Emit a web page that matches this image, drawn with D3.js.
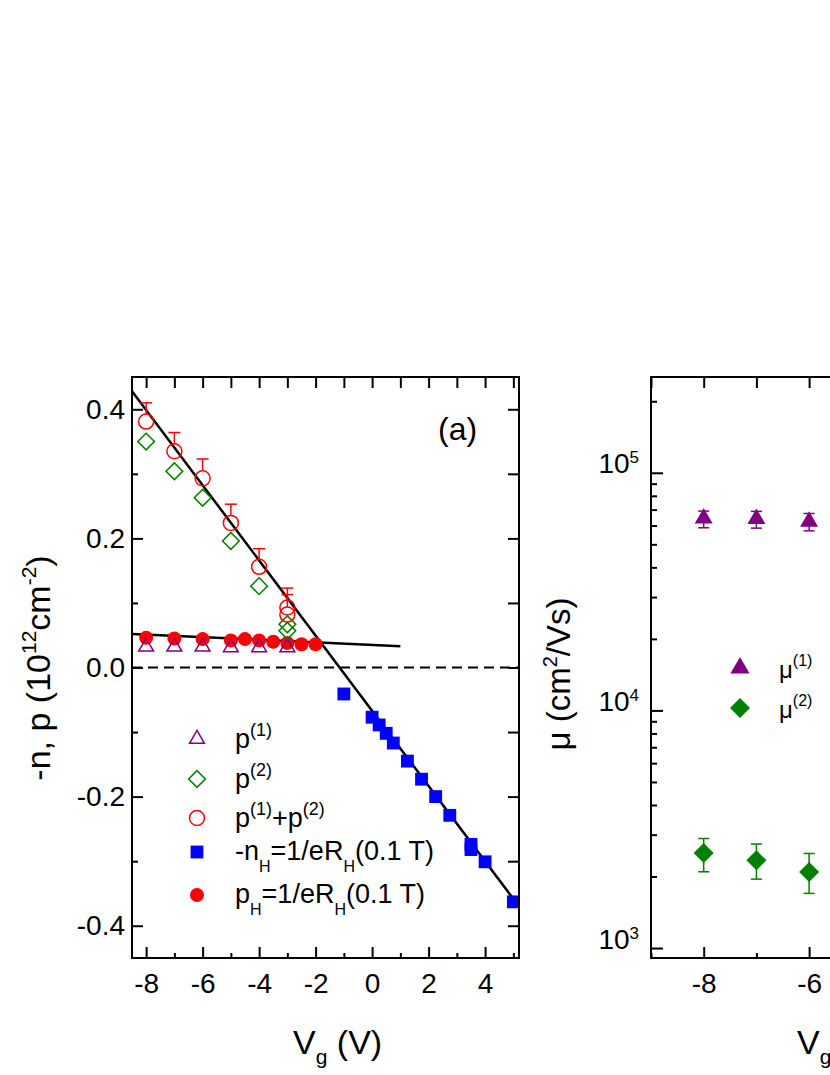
<!DOCTYPE html>
<html>
<head>
<meta charset="utf-8">
<script src="https://cdn.jsdelivr.net/npm/d3@7"></script>
<style>
  body { margin: 0; background: #fff; }
  svg { display: block; }
</style>
</head>
<body>
<div id="chart"></div>
<script>
// ---- data, panel (a): carrier densities vs gate voltage ----
const p1Vg   = [-8, -7, -6, -5, -4, -3];
const p1     = [0.032, 0.032, 0.032, 0.031, 0.031, 0.031];

const p2Vg   = [-8, -7, -6, -5, -4, -3, -3];
const p2     = [0.350, 0.304, 0.263, 0.196, 0.126, 0.067, 0.057];

const pSumVg  = [-8, -7, -6, -5, -4, -3, -3];
const pSum    = [0.381, 0.335, 0.293, 0.224, 0.156, 0.093, 0.082];
const pSumErr = [0.029, 0.029, 0.030, 0.029, 0.028, 0.030, 0.031];

const nHVg   = [-1, 0, 0.25, 0.5, 0.75, 1.25, 1.75, 2.25, 2.75, 3.5, 3.5, 4, 5];
const nH     = [-0.041, -0.077, -0.089, -0.102, -0.117, -0.145, -0.173, -0.200, -0.229, -0.274, -0.282, -0.301, -0.363];

const pHVg   = [-8, -7, -6, -5, -4.5, -4, -3.5, -3, -2.5, -2];
const pH     = [0.046, 0.045, 0.044, 0.042, 0.044, 0.042, 0.040, 0.038, 0.036, 0.036];

// linear fits
const fitSteepVg = [-8.5, 5.2];
const fitSteep   = [0.428, -0.370];
const fitFlatVg  = [-8.5, 1.0];
const fitFlat    = [0.052, 0.033];

// ---- data, panel (b): mobilities ----
const muVg  = [-8, -7, -6];
const mu1   = [64300, 64000, 62300];
const mu1Lo = [58700, 58500, 57000];
const mu1Hi = [69000, 68800, 67400];
const mu2   = [2510, 2340, 2090];
const mu2Lo = [2094, 1950, 1698];
const mu2Hi = [2890, 2740, 2500];

// tick values
const xMajorA = [-8, -6, -4, -2, 0, 2, 4];
const xMinorA = [-7, -5, -3, -1, 1, 3, 5];
const yMajorA = [-0.4, -0.2, 0, 0.2, 0.4];
const yMinorA = [-0.3, -0.1, 0.1, 0.3];
const xMajorB = [-8, -6, -4, -2];
const xLabelB = [-8, -6];          // the only labels inside the picture
const xMinorB = [-9, -7, -5, -3];
const yDecadesB = [1e3, 1e4, 1e5];

const FONT   = "'Liberation Sans', Arial, Helvetica, sans-serif";
const PURPLE = "#800080";
const GREEN  = "#008000";
const RED    = "#ff0000";
const BLUE   = "#0000ff";

const W = 830, H = 1075;

const svg = d3.select("#chart").append("svg")
  .attr("width", W).attr("height", H)
  .attr("font-family", FONT);

// text with super/subscripts: parts = [{t, fs, shift}]
function rich(sel, parts) {
  let cur = 0;
  parts.forEach(p => {
    const shift = p.shift || 0;
    const ts = sel.append("tspan").attr("dy", shift - cur).text(p.t);
    if (p.fs) ts.attr("font-size", p.fs);
    cur = shift;
  });
  return sel;
}

function styleAxis(g) {
  g.select(".domain").remove();
  g.selectAll(".tick line").attr("stroke", "#000").attr("stroke-width", 2);
  g.selectAll(".tick text").attr("font-size", 28).attr("fill", "#000").attr("font-family", FONT);
}

const zip = (xs, ys) => xs.map((v, i) => ({ x: v, y: ys[i] }));

// =================== panel (a) ===================
const A = { left: 132, top: 377, right: 519, bottom: 958 };
const xA = d3.scaleLinear().domain([-8.5, 5.2]).range([A.left, A.right]);
const yA = d3.scaleLinear().domain([-0.45, 0.45]).range([A.bottom, A.top]);

const gA = svg.append("g");

gA.append("clipPath").attr("id", "clipA")
  .append("rect")
    .attr("x", A.left).attr("y", A.top)
    .attr("width", A.right - A.left).attr("height", A.bottom - A.top);

// axes (ticks point inward)
gA.append("g").attr("transform", `translate(0,${A.bottom})`)
  .call(d3.axisBottom(xA).tickValues(xMajorA).tickSize(-11).tickPadding(15).tickFormat(d => String(d)))
  .call(styleAxis);
gA.append("g").attr("transform", `translate(0,${A.bottom})`)
  .call(d3.axisBottom(xA).tickValues(xMinorA).tickSize(-5).tickFormat(""))
  .call(styleAxis);
gA.append("g").attr("transform", `translate(0,${A.top})`)
  .call(d3.axisTop(xA).tickValues(d3.range(-8, 6)).tickSize(-11).tickFormat(""))
  .call(styleAxis);
gA.append("g").attr("transform", `translate(${A.left},0)`)
  .call(d3.axisLeft(yA).tickValues(yMajorA).tickSize(-11).tickPadding(7).tickFormat(d => d.toFixed(1)))
  .call(styleAxis);
gA.append("g").attr("transform", `translate(${A.left},0)`)
  .call(d3.axisLeft(yA).tickValues(yMinorA).tickSize(-6).tickFormat(""))
  .call(styleAxis);
gA.append("g").attr("transform", `translate(${A.right},0)`)
  .call(d3.axisRight(yA).tickValues(yMajorA.concat(yMinorA)).tickSize(-11).tickFormat(""))
  .call(styleAxis);

// zero line
gA.append("line")
  .attr("x1", A.left).attr("x2", A.right)
  .attr("y1", yA(0)).attr("y2", yA(0))
  .attr("stroke", "#000").attr("stroke-width", 1.8)
  .attr("stroke-dasharray", "10 6");

// fit lines
const lineA = d3.line().x(d => xA(d.x)).y(d => yA(d.y));
[zip(fitSteepVg, fitSteep), zip(fitFlatVg, fitFlat)].forEach(pts => {
  gA.append("path")
    .datum(pts)
    .attr("clip-path", "url(#clipA)")
    .attr("fill", "none").attr("stroke", "#000").attr("stroke-width", 2.5)
    .attr("d", lineA);
});

const triOpen  = d3.symbol().type(d3.symbolTriangle).size(95)();
const diamond  = d3.symbol().type(d3.symbolSquare).size(140)();
const square   = d3.symbol().type(d3.symbolSquare).size(165)();
const R_OPEN = 7.5;

// p_H filled circles
gA.selectAll(".pH").data(zip(pHVg, pH)).join("circle")
  .attr("cx", d => xA(d.x)).attr("cy", d => yA(d.y))
  .attr("r", 7).attr("fill", RED);

// -n_H squares
gA.selectAll(".nH").data(zip(nHVg, nH)).join("path")
  .attr("transform", d => `translate(${xA(d.x)},${yA(d.y)})`)
  .attr("d", square).attr("fill", BLUE);

// p(1) open triangles
gA.selectAll(".p1").data(zip(p1Vg, p1)).join("path")
  .attr("transform", d => `translate(${xA(d.x)},${yA(d.y)})`)
  .attr("d", triOpen).attr("fill", "none")
  .attr("stroke", PURPLE).attr("stroke-width", 1.5);

// p(2) open diamonds
gA.selectAll(".p2").data(zip(p2Vg, p2)).join("path")
  .attr("transform", d => `translate(${xA(d.x)},${yA(d.y)}) rotate(45)`)
  .attr("d", diamond).attr("fill", "none")
  .attr("stroke", GREEN).attr("stroke-width", 1.5);

// p(1)+p(2) open circles with upper error bars
const sumData = pSumVg.map((v, i) => ({ x: v, y: pSum[i], e: pSumErr[i] }));
const errA = gA.selectAll(".err").data(sumData).join("g")
  .attr("stroke", RED).attr("stroke-width", 1.5);
errA.append("line")
  .attr("x1", d => xA(d.x)).attr("x2", d => xA(d.x))
  .attr("y1", d => yA(d.y) - R_OPEN).attr("y2", d => yA(d.y + d.e));
errA.append("line")
  .attr("x1", d => xA(d.x) - 6).attr("x2", d => xA(d.x) + 6)
  .attr("y1", d => yA(d.y + d.e)).attr("y2", d => yA(d.y + d.e));
gA.selectAll(".psum").data(sumData).join("circle")
  .attr("cx", d => xA(d.x)).attr("cy", d => yA(d.y))
  .attr("r", R_OPEN).attr("fill", "none")
  .attr("stroke", RED).attr("stroke-width", 1.5);

// frame
gA.append("rect")
  .attr("x", A.left).attr("y", A.top)
  .attr("width", A.right - A.left).attr("height", A.bottom - A.top)
  .attr("fill", "none").attr("stroke", "#000").attr("stroke-width", 2);

// panel label
gA.append("text").attr("x", 438).attr("y", 440)
  .attr("font-size", 32).text("(a)");

// legend
const LX = 197, LTX = 235;
const legA = gA.append("g");
legA.append("path").attr("transform", "translate(197,739)").attr("d", triOpen)
  .attr("fill", "none").attr("stroke", PURPLE).attr("stroke-width", 1.5);
legA.append("path").attr("transform", "translate(197,779) rotate(45)").attr("d", diamond)
  .attr("fill", "none").attr("stroke", GREEN).attr("stroke-width", 1.5);
legA.append("circle").attr("cx", LX).attr("cy", 818).attr("r", R_OPEN)
  .attr("fill", "none").attr("stroke", RED).attr("stroke-width", 1.5);
legA.append("path").attr("transform", "translate(197,852)").attr("d", square).attr("fill", BLUE);
legA.append("circle").attr("cx", LX).attr("cy", 895).attr("r", 7).attr("fill", RED);

const supL = { fs: 18, shift: -12 };
const subL = { fs: 16, shift: 12 };
const legText = [
  { y: 748, parts: [{ t: "p" }, { t: "(1)", ...supL }] },
  { y: 788, parts: [{ t: "p" }, { t: "(2)", ...supL }] },
  { y: 827, parts: [{ t: "p" }, { t: "(1)", ...supL }, { t: "+p" }, { t: "(2)", ...supL }] },
  { y: 860, parts: [{ t: "-n" }, { t: "H", ...subL }, { t: "=1/eR" }, { t: "H", ...subL }, { t: "(0.1 T)" }] },
  { y: 903, parts: [{ t: "p" }, { t: "H", ...subL }, { t: "=1/eR" }, { t: "H", ...subL }, { t: "(0.1 T)" }] }
];
legText.forEach(r => {
  rich(legA.append("text").attr("x", LTX).attr("y", r.y).attr("font-size", 27), r.parts);
});

// axis titles
rich(svg.append("text")
  .attr("transform", "translate(50,668) rotate(-90)")
  .attr("text-anchor", "middle").attr("font-size", 34),
  [{ t: "-n, p (10" }, { t: "12", fs: 21, shift: -14 }, { t: "cm" }, { t: "-2", fs: 21, shift: -14 }, { t: ")" }]);

rich(svg.append("text").attr("x", 293).attr("y", 1054).attr("font-size", 34),
  [{ t: "V" }, { t: "g", fs: 21, shift: 10 }, { t: " (V)" }]);

// =================== panel (b) ===================
const B = { left: 651, top: 377, right: 1041, bottom: 958 };
const xB = d3.scaleLinear().domain([-9, -1.6]).range([B.left, B.right]);
const yB = d3.scaleLog().domain([908, 2.53e5]).range([B.bottom, B.top]);

const gB = svg.append("g");

const yMinorB = [];
[1e2, 1e3, 1e4, 1e5].forEach(dec => {
  for (let k = 2; k <= 9; k++) {
    const v = k * dec;
    if (v > 908 && v < 2.53e5) yMinorB.push(v);
  }
});

gB.append("g").attr("transform", `translate(0,${B.bottom})`)
  .call(d3.axisBottom(xB).tickValues(xMajorB).tickSize(-11).tickPadding(15)
    .tickFormat(d => xLabelB.includes(d) ? String(d) : ""))
  .call(styleAxis);
gB.append("g").attr("transform", `translate(0,${B.bottom})`)
  .call(d3.axisBottom(xB).tickValues(xMinorB).tickSize(-5).tickFormat(""))
  .call(styleAxis);
gB.append("g").attr("transform", `translate(0,${B.top})`)
  .call(d3.axisTop(xB).tickValues(d3.range(-9, -1)).tickSize(-11).tickFormat(""))
  .call(styleAxis);
const leftB = gB.append("g").attr("transform", `translate(${B.left},0)`)
  .call(d3.axisLeft(yB).tickValues(yDecadesB).tickSize(-12).tickFormat(""))
  .call(styleAxis);
leftB.selectAll(".tick").each(function (d) {
  const t = d3.select(this).append("text")
    .attr("x", -12).attr("y", 0).attr("dy", "0.38em")
    .attr("text-anchor", "end").attr("font-size", 28).attr("fill", "#000");
  rich(t, [{ t: "10" }, { t: String(Math.round(Math.log10(d))), fs: 17, shift: -10 }]);
});
gB.append("g").attr("transform", `translate(${B.left},0)`)
  .call(d3.axisLeft(yB).tickValues(yMinorB).tickSize(-6).tickFormat(""))
  .call(styleAxis);

const triFill = d3.symbol().type(d3.symbolTriangle).size(140)();
const triLeg  = d3.symbol().type(d3.symbolTriangle).size(160)();
const diaFill = d3.symbol().type(d3.symbolSquare).size(200)();

function errBars(lo, hi, color) {
  const d = muVg.map((v, i) => ({ x: v, lo: lo[i], hi: hi[i] }));
  const g = gB.append("g").attr("stroke", color).attr("stroke-width", 1.5);
  g.selectAll("line.v").data(d).join("line")
    .attr("x1", e => xB(e.x)).attr("x2", e => xB(e.x))
    .attr("y1", e => yB(e.lo)).attr("y2", e => yB(e.hi));
  ["lo", "hi"].forEach(k => {
    g.selectAll("line." + k).data(d).join("line")
      .attr("x1", e => xB(e.x) - 5.5).attr("x2", e => xB(e.x) + 5.5)
      .attr("y1", e => yB(e[k])).attr("y2", e => yB(e[k]));
  });
}
errBars(mu1Lo, mu1Hi, PURPLE);
errBars(mu2Lo, mu2Hi, GREEN);

gB.selectAll(".mu1").data(zip(muVg, mu1)).join("path")
  .attr("transform", d => `translate(${xB(d.x)},${yB(d.y)})`)
  .attr("d", triFill).attr("fill", PURPLE);
gB.selectAll(".mu2").data(zip(muVg, mu2)).join("path")
  .attr("transform", d => `translate(${xB(d.x)},${yB(d.y)}) rotate(45)`)
  .attr("d", diaFill).attr("fill", GREEN);

gB.append("rect")
  .attr("x", B.left).attr("y", B.top)
  .attr("width", B.right - B.left).attr("height", B.bottom - B.top)
  .attr("fill", "none").attr("stroke", "#000").attr("stroke-width", 2);

// legend (b)
gB.append("path").attr("transform", "translate(740,668)").attr("d", triLeg).attr("fill", PURPLE);
gB.append("path").attr("transform", "translate(740,708) rotate(45)").attr("d", diaFill).attr("fill", GREEN);
rich(gB.append("text").attr("x", 779).attr("y", 678).attr("font-size", 24),
  [{ t: "\u03bc" }, { t: "(1)", fs: 16, shift: -12 }]);
rich(gB.append("text").attr("x", 779).attr("y", 718).attr("font-size", 24),
  [{ t: "\u03bc" }, { t: "(2)", fs: 16, shift: -12 }]);

// axis titles (b)
rich(svg.append("text")
  .attr("transform", "translate(570,674) rotate(-90)")
  .attr("text-anchor", "middle").attr("font-size", 33),
  [{ t: "\u03bc (cm" }, { t: "2", fs: 20, shift: -13 }, { t: "/Vs)" }]);

rich(svg.append("text").attr("x", 797).attr("y", 1054).attr("font-size", 34),
  [{ t: "V" }, { t: "g", fs: 21, shift: 10 }, { t: " (V)" }]);
</script>
</body>
</html>
